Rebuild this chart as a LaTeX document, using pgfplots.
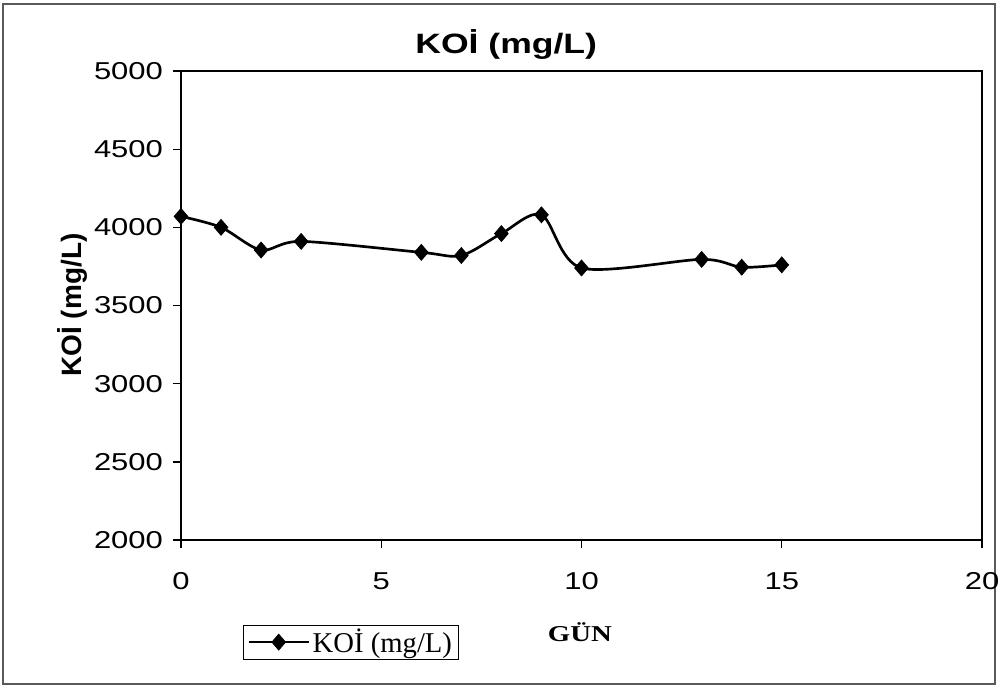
\documentclass[border=0pt]{standalone}
\usepackage{pgfplots}
\pgfplotsset{compat=1.18}
\usepackage{fontspec}
\setmainfont{Liberation Sans}[FakeStretch=1.27]
\newfontfamily\ylabfont{Liberation Sans}
\newfontfamily\serifw{Liberation Serif}[FakeStretch=1.27]
\newfontfamily\legfont{Liberation Serif}

\begin{document}
\begin{tikzpicture}[x=0.75pt,y=0.75pt]
% page = 998x687 px, origin at lower left of plot area
\useasboundingbox (-181,-147) rectangle (817,540);
\draw[gray!70!black, line width=0.8pt] (-178,-144) rectangle (814,536);
\begin{axis}[
  at={(0,0)}, anchor=south west,
  scale only axis,
  width=600.75pt, height=351.75pt,
  xmin=0, xmax=20, ymin=2000, ymax=5000,
  xtick={0,5,10,15,20},
  ytick={2000,2500,3000,3500,4000,4500,5000},
  tick pos=left, tick align=outside,
  major tick length=6pt,
  axis line style={line width=1.2pt},
  every tick/.style={black, line width=1pt},
  scaled ticks=false,
  /pgf/number format/assume math mode=true,
  /pgf/number format/1000 sep={},
  tick label style={font=\fontsize{18.3}{20}\selectfont},
  xticklabel style={yshift=-15pt},
  yticklabel style={xshift=-4pt},
  title={KOİ (mg/L)},
  title style={at={(axis description cs:0.406,1.040)}, anchor=center,
    font=\bfseries\fontsize{21}{24}\selectfont},
  xlabel={GÜN},
  xlabel style={at={(axis description cs:0.498,-0.196)}, anchor=center,
    font=\serifw\bfseries\fontsize{17}{20}\selectfont},
  ylabel={KOİ (mg/L)},
  ylabel style={at={(axis description cs:-0.135,0.501)}, anchor=center,
    font=\ylabfont\bfseries\fontsize{21}{24}\selectfont},
  legend style={at={(axis description cs:0.0774,-0.181)}, anchor=north west,
    draw=black, line width=0.6pt, inner xsep=3pt, inner ysep=1pt,
    font=\legfont\fontsize{21.5}{23}\selectfont},
  legend image code/.code={\draw[mark repeat=2,mark phase=2,#1]
    plot coordinates {(0pt,0pt) (22.5pt,0pt) (45pt,0pt)};},
]
\addplot[black, line width=2pt, smooth, tension=0.5,
  mark=diamond*, mark size=6pt, mark options={solid, line width=0.5pt, xscale=1.15}]
  coordinates {(0,4070) (1,4000) (2,3855) (3,3910) (6,3840) (7,3820)
    (8,3960) (9,4080) (10,3740) (13,3795) (14,3745) (15,3760)};
\addlegendentry{KOİ (mg/L)}
\end{axis}
\end{tikzpicture}
\end{document}
